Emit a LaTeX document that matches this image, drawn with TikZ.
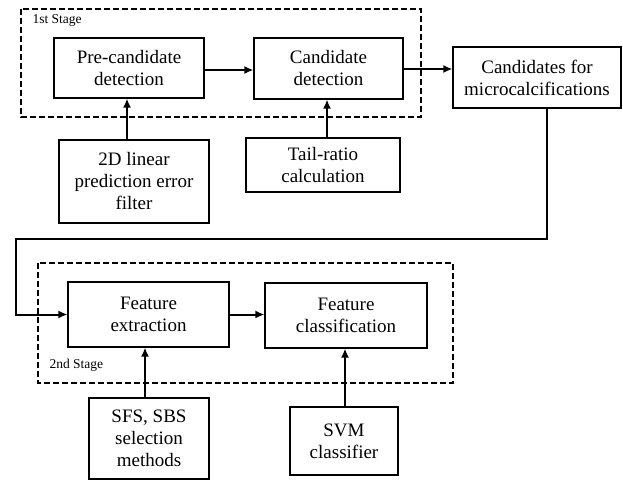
\documentclass[tikz,border=0pt]{standalone}
\usepackage{fontspec}
\setmainfont{Liberation Serif}
\usetikzlibrary{arrows.meta,calc}

\tikzset{
  block/.style={draw, line width=1.1pt, align=center, inner sep=2pt,
    font=\fontsize{19}{22}\selectfont},
  inblock/.style={block, line width=2pt},
  stagebox/.style={draw, dashed, line width=1.6pt, dash pattern=on 6pt off 3pt},
  flow/.style={line width=2pt, -{Latex[length=9pt,width=8pt]}},
  stagelabel/.style={anchor=west, font=\fontsize{13.5}{15}\selectfont}
}

\begin{document}
\begin{tikzpicture}[x=1pt,y=-1pt]
  \useasboundingbox (0,0) rectangle (623,481);

  % first stage
  \draw [stagebox] (21,9) rectangle (421,117);
  \node [stagelabel] (lab1) at (29,20) {1st Stage};
  \node [block, minimum width=150pt, minimum height=60pt] (pre) at (129,68) {Pre-candidate\\detection};
  \node [block, minimum width=149pt, minimum height=61pt] (cand) at (328.5,68.5) {Candidate\\detection};
  \node [block, minimum width=168pt, minimum height=61pt] (cands) at (537,77.5) {Candidates for\\microcalcifications};
  \node [inblock, minimum width=150pt, minimum height=83pt] (lin) at (134,181.5) {2D linear\\prediction error\\filter};
  \node [inblock, minimum width=154pt, minimum height=54pt] (tail) at (323,165) {Tail-ratio\\calculation};

  \draw [flow] (pre.east |- 0,70) -- (cand.west |- 0,70);
  \draw [flow] (cand.east |- 0,69) -- (cands.west |- 0,69);
  \draw [flow] (lin.north -| 127,0) -- (pre.south -| 127,0);
  \draw [flow] (tail.north -| 327,0) -- (cand.south -| 327,0);

  % second stage
  \draw [stagebox] (38,263) rectangle (453,383);
  \node [stagelabel] (lab2) at (46,365) {2nd Stage};
  \node [block, minimum width=161pt, minimum height=65pt] (fext) at (148.5,314.5) {Feature\\extraction};
  \node [block, minimum width=162pt, minimum height=65pt] (fcls) at (346,315.5) {Feature\\classification};
  \node [inblock, minimum width=120pt, minimum height=81pt] (sfs) at (149,438.5) {SFS, SBS\\selection\\methods};
  \node [inblock, minimum width=108pt, minimum height=68pt] (svm) at (344,441) {SVM\\classifier};

  \coordinate (turn) at (547,239);
  \coordinate (back) at (16,239);
  \draw [flow] (cands.south -| turn) -- (turn) -- (back) |- (fext.west);
  \draw [flow] (fext.east) -- (fext.east -| fcls.west);
  \draw [flow] (sfs.north -| 145,0) -- (fext.south -| 145,0);
  \draw [flow] (svm.north -| 345,0) -- (fcls.south -| 345,0);
\end{tikzpicture}
\end{document}
